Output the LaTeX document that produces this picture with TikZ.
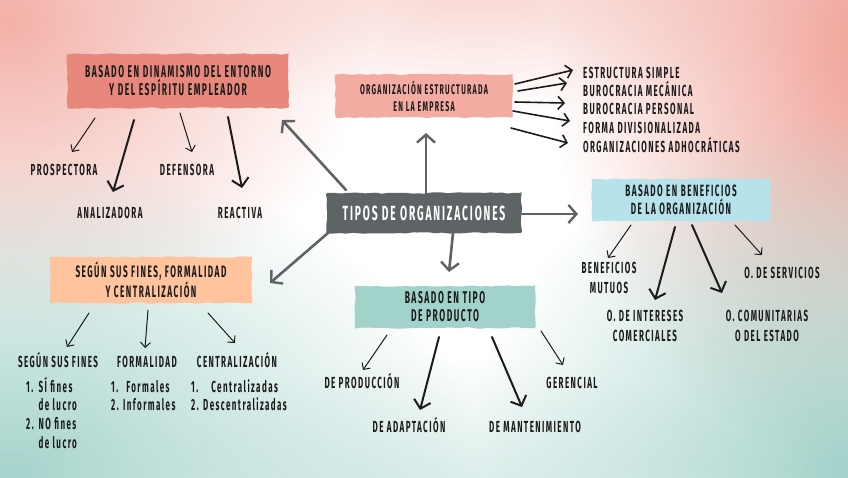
\documentclass[tikz,border=0pt]{standalone}
\usepackage{fontspec}
\setmainfont{Fira Sans}
\newfontfamily\hand[FakeStretch=0.5,LetterSpace=9]{Fira Sans}
\usetikzlibrary{arrows.meta,decorations.pathmorphing,fadings,calc}
\definecolor{bgpink}{HTML}{F09E93}
\definecolor{bgteal}{HTML}{9CCFC6}
\definecolor{cdark}{HTML}{5E6466}
\definecolor{csalmon}{HTML}{E8877C}
\definecolor{cpink}{HTML}{F4ABA2}
\definecolor{cblue}{HTML}{B6E2EB}
\definecolor{cteal}{HTML}{A2D3CB}
\definecolor{cpeach}{HTML}{FFC39E}
\definecolor{ink}{HTML}{1B1B1B}
\tikzfading[name=softblob, inner color=transparent!0, outer color=transparent!100]
\tikzset{
  boxnode/.style={fill=#1, draw=none, inner sep=2pt, align=center, text=ink,
    decorate, decoration={random steps,segment length=6pt,amplitude=0.8pt}, rounded corners=1.5pt},
  lbl/.style={inner sep=0pt, text=ink, font=\hand\bfseries\fontsize{16}{19.5}\selectfont, align=center},
  capl/.style={lbl, text height=11pt, text depth=0pt},
  lst/.style={inner sep=0pt, text=ink, font=\hand\bfseries\fontsize{16}{18.7}\selectfont, anchor=base west},
  tarr/.style={draw=ink, line width=1pt, line cap=round, -{Straight Barb[length=5pt,width=10pt,line width=1pt]}},
  karr/.style={draw=ink, line width=2pt, line cap=round, -{Straight Barb[length=8pt,width=17pt,line width=2pt]}},
  marr/.style={draw=ink, line width=1.6pt, line cap=round, -{Straight Barb[length=6pt,width=13pt,line width=1.6pt]}},
  garr/.style={draw=cdark, line width=2.6pt, line cap=round, -{Straight Barb[length=8pt,width=18pt,line width=2.4pt]}},
}
\begin{document}
\begin{tikzpicture}[x=1pt,y=-1pt]
\useasboundingbox (0,0) rectangle (848,477);
\fill[white] (0,0) rectangle (848,477);
% background watercolour
\begin{scope}
\clip (0,0) rectangle (848,477);
\fill[bgpink, opacity=0.8, path fading=softblob] (10,20) ellipse (360 and 320);
\fill[bgpink, opacity=1, path fading=softblob] (880,50) ellipse (330 and 420);
\fill[bgpink, opacity=0.45, path fading=softblob] (480,-20) ellipse (380 and 130);
\fill[bgteal, opacity=0.9, path fading=softblob] (10,475) ellipse (470 and 320);
\fill[bgteal, opacity=0.95, path fading=softblob] (850,475) ellipse (380 and 360);
\fill[bgteal, opacity=0.4, path fading=softblob] (450,505) ellipse (320 and 150);
\end{scope}

% main boxes
\node[boxnode=cdark, text=white, minimum width=195pt, minimum height=40pt,
  font=\hand\bfseries\fontsize{20.5}{22}\selectfont] (ctr) at (424,213) {TIPOS DE ORGANIZACIONES};
\node[boxnode=csalmon, minimum width=221pt, minimum height=54pt,
  font=\hand\bfseries\fontsize{17}{18}\selectfont] (tl) at (178,81) {BASADO EN DINAMISMO DEL ENTORNO\\Y DEL ESPÍRITU EMPLEADOR};
\node[boxnode=cpink, minimum width=177pt, minimum height=43pt,
  font=\hand\bfseries\fontsize{14}{17}\selectfont] (org) at (424,96) {ORGANIZACIÓN ESTRUCTURADA\\EN LA EMPRESA};
\node[boxnode=cblue, minimum width=178pt, minimum height=42pt,
  font=\hand\bfseries\fontsize{16.3}{18}\selectfont] (rb) at (681,200) {BASADO EN BENEFICIOS\\DE LA ORGANIZACIÓN};
\node[boxnode=cteal, minimum width=180pt, minimum height=42pt,
  font=\hand\bfseries\fontsize{17}{18}\selectfont] (bb) at (445,307) {BASADO EN TIPO\\DE PRODUCTO};
\node[boxnode=cpeach, minimum width=202pt, minimum height=46pt,
  font=\hand\bfseries\fontsize{16.5}{18}\selectfont] (lb) at (151,280) {SEGÚN SUS FINES, FORMALIDAD\\Y CENTRALIZACIÓN};

% top-left children
\node[capl] (pros) at (64,170) {PROSPECTORA};
\node[capl] (anal) at (110,213) {ANALIZADORA};
\node[capl] (def) at (187,170) {DEFENSORA};
\node[capl] (reac) at (240,213) {REACTIVA};

% organisation list
\node[capl, anchor=west] (l1) at (583,73) {ESTRUCTURA SIMPLE};
\node[capl, anchor=west] (l2) at (583,91) {BUROCRACIA MECÁNICA};
\node[capl, anchor=west] (l3) at (583,109) {BUROCRACIA PERSONAL};
\node[capl, anchor=west] (l4) at (583,128) {FORMA DIVISIONALIZADA};
\node[capl, anchor=west] (l5) at (583,147) {ORGANIZACIONES ADHOCRÁTICAS};

% right children
\node[lbl] (bm) at (609,278) {BENEFICIOS\\MUTUOS};
\node[capl] (osv) at (782,273) {O. DE SERVICIOS};
\node[lbl] (oint) at (645,326) {O. DE INTERESES\\COMERCIALES};
\node[lbl] (ocom) at (767,326) {O. COMUNITARIAS\\O DEL ESTADO};

% bottom children
\node[capl] (dprod) at (362,383) {DE PRODUCCIÓN};
\node[capl] (dadap) at (409,427) {DE ADAPTACIÓN};
\node[capl] (dmant) at (535,427) {DE MANTENIMIENTO};
\node[capl] (ger) at (572,383) {GERENCIAL};

% left children
\node[capl] (sf) at (58,362) {SEGÚN SUS FINES};
\node[capl] (form) at (147,362) {FORMALIDAD};
\node[capl] (cent) at (237,362) {CENTRALIZACIÓN};

\node[lst] (sfl) at (26,392) {\begin{tabular}[t]{@{}l@{\hspace{5pt}}l@{}}1.&SÍ fines\\&de lucro\\2.&NO fines\\&de lucro\end{tabular}};
\node[lst] (forml) at (111,392) {\begin{tabular}[t]{@{}l@{}}1.\hspace{8pt}Formales\\2. Informales\end{tabular}};
\node[lst] (centl) at (191,392) {\begin{tabular}[t]{@{}l@{}}1.\hspace{13pt}Centralizadas\\2. Descentralizadas\end{tabular}};

% gray connectors from the centre
\draw[garr] ($(ctr)+(-78,-23)$) -- ($(tl)+(104,39)$);
\draw[garr] ($(ctr)+(2,-20)$) -- ($(org)+(2,37)$);
\draw[garr] ($(ctr)+(98,1)$) -- ($(rb)+(-103,14)$);
\draw[garr] ($(ctr)+(29,20)$) -- ($(bb)+(4,-35)$);
\draw[garr] ($(ctr)+(-96,20)$) -- ($(lb)+(119,3)$);

% top-left arrows
\draw[tarr] ($(tl)+(-83,37)$) -- ($(pros)+(8,-18)$);
\draw[karr] ($(tl)+(-44,39)$) -- ($(anal)+(3,-21)$);
\draw[tarr] ($(tl)+(2,32)$) -- ($(def)+(5,-18)$);
\draw[karr] ($(tl)+(50,36)$) -- ($(reac)+(2,-25)$);

% organisation arrows
\draw[marr] ($(org)+(91,-12)$) -- ($(l1.west)+(-10,-3)$);
\draw[marr] ($(org)+(94,-5)$) -- ($(l2.west)+(-16,-8)$);
\draw[marr] ($(org)+(91,6)$) -- ($(l3.west)+(-18,-6)$);
\draw[marr] ($(org)+(89,15)$) -- ($(l4.west)+(-13,-7)$);
\draw[marr] ($(org)+(87,32)$) -- ($(l5.west)+(-15,-4)$);

% right arrows
\draw[tarr] ($(rb)+(-50,25)$) -- ($(bm)+(-1,-20)$);
\draw[karr] ($(rb)+(-6,27)$) -- ($(oint)+(10,-26)$);
\draw[karr] ($(rb)+(11,25)$) -- ($(ocom)+(-45,-33)$);
\draw[tarr] ($(rb)+(54,25)$) -- ($(osv)+(-20,-18)$);

% bottom arrows
\draw[tarr] ($(bb)+(-58,28)$) -- ($(dprod)+(1,-13)$);
\draw[karr] ($(bb)+(-6,30)$) -- ($(dadap)+(11,-17)$);
\draw[karr] ($(bb)+(47,30)$) -- ($(dmant)+(-13,-20)$);
\draw[tarr] ($(bb)+(96,24)$) -- ($(ger)+(-9,-18)$);

% left arrows
\draw[tarr] ($(lb)+(-62,33)$) -- ($(sf)+(9,-15)$);
\draw[tarr] ($(lb)+(-3,30)$) -- ($(form)+(-2,-14)$);
\draw[tarr] ($(lb)+(57,33)$) -- ($(cent)+(-2,-19)$);
\end{tikzpicture}
\end{document}
